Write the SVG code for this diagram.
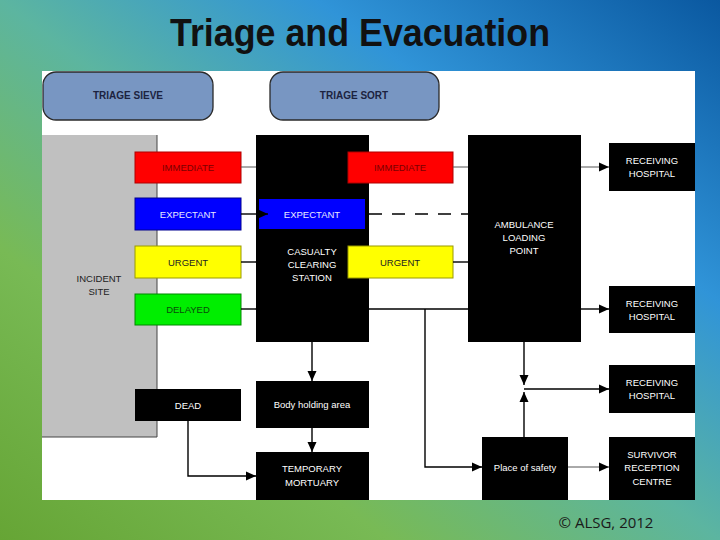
<svg xmlns="http://www.w3.org/2000/svg" width="720" height="540" viewBox="0 0 720 540">
<defs>
<linearGradient id="bg" x1="0" y1="1" x2="1" y2="0">
<stop offset="0" stop-color="#66a535"/>
<stop offset="0.27" stop-color="#78ba55"/>
<stop offset="0.5" stop-color="#5cb5a0"/>
<stop offset="0.72" stop-color="#3094d8"/>
<stop offset="1" stop-color="#0a58a0"/>
</linearGradient>
<marker id="ah" markerWidth="10" markerHeight="10" refX="10" refY="5" orient="auto" markerUnits="userSpaceOnUse">
<path d="M0,0.5 L10,5 L0,9.5 z" fill="#000"/>
</marker>
<style>
.t{font-family:"Liberation Sans",Arial,sans-serif;font-size:9.5px;text-anchor:middle;dominant-baseline:central}
.w{fill:#fff}
.blk{fill:#000}
.hdr{fill:#7896c2;stroke:#2a2a2a;stroke-width:1.3}
.hdrt{font-family:"Liberation Sans",Arial,sans-serif;font-size:10px;font-weight:bold;fill:#1c2340;text-anchor:middle;dominant-baseline:central}
.c{fill:none;stroke:#000;stroke-width:1.4}
.cg{fill:none;stroke:#555;stroke-width:1}
</style>
</defs>
<rect x="0" y="0" width="720" height="540" fill="url(#bg)"/>
<text x="360" y="46" font-family="'Liberation Sans',Arial,sans-serif" font-size="38" font-weight="bold" fill="#111" text-anchor="middle" textLength="380" lengthAdjust="spacingAndGlyphs">Triage and Evacuation</text>
<rect x="42" y="71" width="653" height="429" fill="#fff"/>

<g id="triage-sieve"><rect class="hdr" x="43" y="72" width="170" height="48" rx="13"/><text class="hdrt" x="128" y="95">TRIAGE SIEVE</text></g>
<g id="triage-sort"><rect class="hdr" x="270" y="72" width="169" height="48" rx="13"/><text class="hdrt" x="354" y="95">TRIAGE SORT</text></g>

<g id="incident-site"><rect x="42" y="135" width="115" height="302" fill="#c0c0c0"/><path d="M157,135 V437 H42" fill="none" stroke="#444" stroke-width="1"/><text class="t" x="99" y="278" fill="#222">INCIDENT</text><text class="t" x="99" y="291" fill="#222">SITE</text></g>

<g id="sieve-immediate"><rect x="135" y="152" width="106" height="31" fill="#ff0000" stroke="#b00000" stroke-width="1"/><text class="t" x="188" y="167" fill="#7a0000">IMMEDIATE</text></g>
<g id="sieve-expectant"><rect x="135" y="198" width="106" height="32" fill="#0000ff" stroke="#000090" stroke-width="1"/><text class="t" x="188" y="214" fill="#e8e8ff">EXPECTANT</text></g>
<g id="sieve-urgent"><rect x="135" y="246" width="106" height="32" fill="#ffff00" stroke="#9a9a00" stroke-width="1"/><text class="t" x="188" y="262" fill="#222">URGENT</text></g>
<g id="sieve-delayed"><rect x="135" y="294" width="106" height="31" fill="#00ee00" stroke="#008800" stroke-width="1"/><text class="t" x="188" y="309" fill="#0a4a0a">DELAYED</text></g>
<g id="dead"><rect class="blk" x="135" y="389" width="106" height="32"/><text class="t w" x="188" y="405">DEAD</text></g>

<g id="casualty-clearing-station"><rect class="blk" x="256" y="135" width="113" height="207"/>
<rect x="259" y="199" width="106" height="30" fill="#0000ff"/><text class="t" x="312" y="214" fill="#e8e8ff">EXPECTANT</text>
<text class="t w" x="312" y="251">CASUALTY</text><text class="t w" x="312" y="264">CLEARING</text><text class="t w" x="312" y="277">STATION</text></g>
<g id="sort-immediate"><rect x="348" y="152" width="105" height="31" fill="#ff0000" stroke="#b00000" stroke-width="1"/><text class="t" x="400" y="167" fill="#7a0000">IMMEDIATE</text></g>
<g id="sort-urgent"><rect x="348" y="246" width="105" height="32" fill="#ffff00" stroke="#9a9a00" stroke-width="1"/><text class="t" x="400" y="262" fill="#222">URGENT</text></g>

<g id="ambulance-loading-point"><rect class="blk" x="468" y="135" width="113" height="207"/><text class="t w" x="524" y="224">AMBULANCE</text><text class="t w" x="524" y="237">LOADING</text><text class="t w" x="524" y="250">POINT</text></g>

<g id="receiving-hospital-1"><rect class="blk" x="609" y="143" width="86" height="48"/><text class="t w" x="652" y="160">RECEIVING</text><text class="t w" x="652" y="173">HOSPITAL</text></g>
<g id="receiving-hospital-2"><rect class="blk" x="609" y="286" width="86" height="47"/><text class="t w" x="652" y="303">RECEIVING</text><text class="t w" x="652" y="316">HOSPITAL</text></g>
<g id="receiving-hospital-3"><rect class="blk" x="609" y="365" width="86" height="48"/><text class="t w" x="652" y="382">RECEIVING</text><text class="t w" x="652" y="395">HOSPITAL</text></g>
<g id="survivor-reception-centre"><rect class="blk" x="609" y="437" width="86" height="63"/><text class="t w" x="652" y="454">SURVIVOR</text><text class="t w" x="652" y="467">RECEPTION</text><text class="t w" x="652" y="481">CENTRE</text></g>

<g id="place-of-safety"><rect class="blk" x="482" y="437" width="86" height="63"/><text class="t w" x="525" y="467">Place of safety</text></g>
<g id="body-holding-area"><rect class="blk" x="256" y="381" width="113" height="47"/><text class="t w" x="312" y="404">Body holding area</text></g>
<g id="temporary-mortuary"><rect class="blk" x="256" y="452" width="113" height="48"/><text class="t w" x="312" y="468">TEMPORARY</text><text class="t w" x="312" y="482">MORTUARY</text></g>

<g id="connectors">
<path class="cg" d="M241,167 H256"/>
<path class="c" d="M241,214 H268" marker-end="url(#ah)"/>
<path class="c" d="M241,262 H256"/>
<path class="c" d="M241,309 H256"/>
<path class="cg" d="M453,167 H468"/>
<path class="c" d="M369,214 H468" stroke-dasharray="13,10"/>
<path class="c" d="M453,262 H468"/>
<path class="c" d="M369,309 H468"/>
<path class="c" d="M425,309 V467 H482" marker-end="url(#ah)"/>
<path class="cg" d="M581,167 H609" marker-end="url(#ah)"/>
<path class="c" d="M581,309 H609" marker-end="url(#ah)"/>
<path class="c" d="M524,342 V385" marker-end="url(#ah)"/>
<path class="c" d="M524,437 V392" marker-end="url(#ah)"/>
<path class="c" d="M524,389 H609" marker-end="url(#ah)"/>
<path class="cg" d="M568,467 H609" marker-end="url(#ah)"/>
<path class="c" d="M312,342 V381" marker-end="url(#ah)"/>
<path class="c" d="M312,428 V452" marker-end="url(#ah)"/>
<path class="c" d="M188,421 V476 H256" marker-end="url(#ah)"/>
</g>

<text x="606" y="528" font-family="'Open Sans','Liberation Sans',sans-serif" font-size="15" fill="#1a1a1a" text-anchor="middle">© ALSG, 2012</text>
</svg>
